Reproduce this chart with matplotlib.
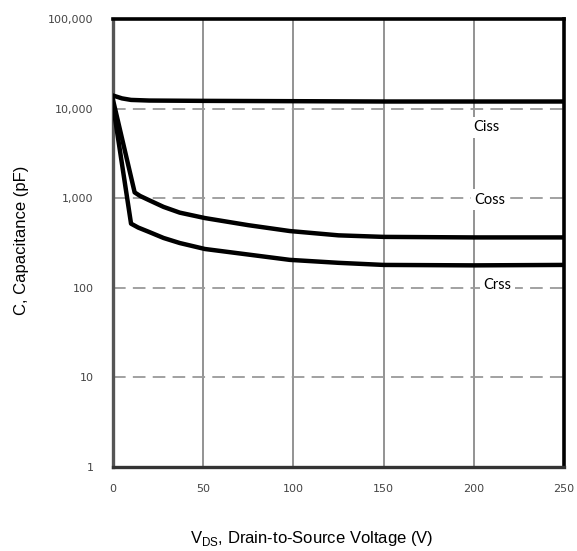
import matplotlib
matplotlib.use("Agg")
import matplotlib.pyplot as plt
from matplotlib.ticker import FixedLocator, FixedFormatter, NullLocator

plt.rcParams["mathtext.fontset"] = "custom"
plt.rcParams["mathtext.rm"] = "Liberation Sans"

# capacitance curves, pF vs V_DS
vds_ciss = [0, 5, 10, 20, 50, 100, 150, 200, 250]
ciss = [14000, 13000, 12500, 12300, 12200, 12100, 12000, 12000, 12000]

vds_coss = [0, 12, 15, 20, 28, 37, 51, 75, 98, 125, 150, 200, 250]
coss = [12500, 1160, 1060, 950, 800, 690, 600, 500, 430, 385, 370, 365, 365]

vds_crss = [0, 10, 14, 20, 28, 37, 51, 75, 98, 125, 150, 200, 250]
crss = [11000, 520, 470, 420, 360, 316, 271, 235, 205, 190, 180, 178, 180]

y_ticks = [1, 10, 100, 1000, 10000, 100000]
y_labels = ["1", "10", "100", "1,000", "10,000", "100,000"]
x_ticks = [0, 50, 100, 150, 200, 250]

fig = plt.figure(figsize=(5.77, 5.51), dpi=100)
ax = fig.add_axes([113 / 577, 1 - 467 / 551, 451 / 577, 448 / 551])

ax.set_yscale("log")
ax.set_xlim(0, 250)
ax.set_ylim(1, 100000)

# grid: solid verticals, dashed horizontals
for x in x_ticks[1:-1]:
    ax.axvline(x, color="#8a8a8a", lw=1.3, zorder=1)
for y in y_ticks[1:-1]:
    ax.axhline(y, color="#9a9a9a", lw=1.3, dashes=(7, 4), zorder=1)

for xs, ys in [(vds_ciss, ciss), (vds_coss, coss), (vds_crss, crss)]:
    ax.plot(xs, ys, color="black", lw=3.2, solid_joinstyle="round", zorder=3)

label_box = dict(facecolor="white", edgecolor="none", pad=2.5)
ax.text(207, 6200, "Ciss", ha="center", va="center", fontsize=10.5,
        family="Lato", bbox=label_box, zorder=2)
ax.text(209, 960, "Coss", ha="center", va="center", fontsize=10.5,
        family="Lato", bbox=label_box, zorder=2)
ax.text(213, 108, "Crss", ha="center", va="center", fontsize=10.5,
        family="Lato", bbox=label_box, zorder=2)

ax.yaxis.set_major_locator(FixedLocator(y_ticks))
ax.yaxis.set_major_formatter(FixedFormatter(y_labels))
ax.yaxis.set_minor_locator(NullLocator())
ax.set_xticks(x_ticks)
ax.tick_params(length=0, labelsize=8, labelcolor="#444444")
ax.tick_params(axis="x", pad=12)
ax.tick_params(axis="y", pad=14)

for side in ["top", "right"]:
    ax.spines[side].set_linewidth(2.6)
    ax.spines[side].set_color("black")
ax.spines["left"].set_linewidth(2.4)
ax.spines["left"].set_color("#555555")
ax.spines["bottom"].set_linewidth(2.4)
ax.spines["bottom"].set_color("#333333")

fig.text(22 / 577, 1 - 240 / 551, "C, Capacitance (pF)", rotation=90,
         ha="center", va="center", fontsize=12, family="Liberation Sans")
fig.text(312 / 577, 1 - 538 / 551, r"V$_{\mathrm{DS}}$, Drain-to-Source Voltage (V)",
         ha="center", va="center", fontsize=12, family="Liberation Sans")

fig.savefig("out.png", dpi=100)
